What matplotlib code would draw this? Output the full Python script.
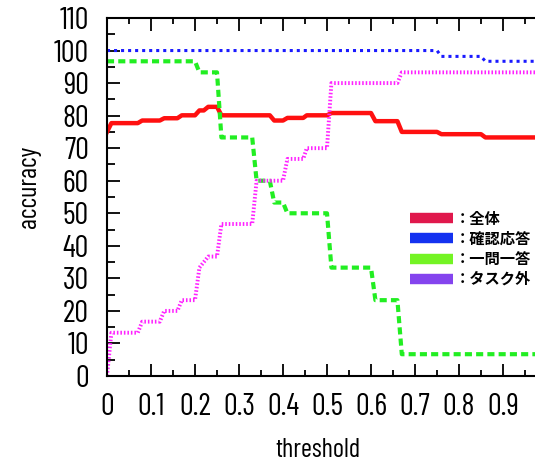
import matplotlib
matplotlib.use("Agg")
import matplotlib.pyplot as plt
from matplotlib.lines import Line2D
from matplotlib.ticker import MultipleLocator, FixedLocator
from matplotlib import font_manager

# thresholds / accuracy (%)
thr_all = [0, 0.01, 0.07, 0.08, 0.12, 0.13, 0.16, 0.17, 0.20, 0.21, 0.22, 0.23, 0.25, 0.26,
           0.37, 0.38, 0.40, 0.41, 0.446, 0.454, 0.50, 0.51, 0.60, 0.61, 0.66, 0.67,
           0.75, 0.76, 0.85, 0.86, 1.0]
acc_all = [75, 77.7, 77.7, 78.5, 78.5, 79.2, 79.2, 80.1, 80.1, 81.6, 81.6, 82.7, 82.7, 80.1,
           80.1, 78.5, 78.5, 79.3, 79.3, 80.1, 80.1, 80.8, 80.8, 78.3, 78.3, 75.0,
           75.0, 74.3, 74.3, 73.3, 73.3]

thr_conf = [0, 0.75, 0.76, 0.85, 0.86, 1.0]
acc_conf = [100, 100, 98.2, 98.2, 96.7, 96.7]

thr_qa = [0, 0.20, 0.21, 0.25, 0.26, 0.33, 0.34, 0.37, 0.38, 0.40, 0.41,
          0.50, 0.51, 0.60, 0.61, 0.66, 0.67, 1.0]
acc_qa = [96.7, 96.7, 93.3, 93.3, 73.3, 73.3, 60, 60, 53.3, 53.3, 50,
          50, 33.3, 33.3, 23.3, 23.3, 6.7, 6.7]

thr_out = [0, 0.01, 0.07, 0.08, 0.12, 0.13, 0.16, 0.17, 0.20, 0.21, 0.23, 0.25, 0.26,
           0.33, 0.34, 0.40, 0.41, 0.446, 0.454, 0.50, 0.51, 0.66, 0.67, 1.0]
acc_out = [0, 13.3, 13.3, 16.7, 16.7, 20, 20, 23.3, 23.3, 33.3, 36.7, 36.7, 46.7,
           46.7, 60, 60, 66.7, 66.7, 70, 70, 90, 90, 93.3, 93.3]

legend_labels = ["：全体", "：確認応答", "：一問一答", "：タスク外"]
legend_colors = ["#e0184c", "#1432f0", "#74f424", "#8444ee"]

x_ticks = [0, 0.1, 0.2, 0.3, 0.4, 0.5, 0.6, 0.7, 0.8, 0.9]
x_ticklabels = ["0", "0.1", "0.2", "0.3", "0.4", "0.5", "0.6", "0.7", "0.8", "0.9"]

# narrow face for the numbers, fall back to DejaVu (smaller) if missing
names = {f.name for f in font_manager.fontManager.ttflist}
if "Barlow Condensed" in names:
    num_font, num_size, lab_size = "Barlow Condensed", 22, 19
else:
    num_font, num_size, lab_size = "DejaVu Sans", 12, 14

fig = plt.figure(figsize=(5.35, 4.65), dpi=100)
ax = fig.add_axes([107 / 535, 89 / 465, 440 / 535, 358 / 465])

ax.plot(thr_all, acc_all, color="#ff1010", lw=3.2)
ax.plot(thr_conf, acc_conf, color="#1a1aff", lw=2.2, linestyle=(0, (1, 1.3)))
ax.plot(thr_qa, acc_qa, color="#22ee22", lw=3.0, linestyle=(0, (1.7, 1.0)))
ax.plot(thr_out, acc_out, color="#ff22ff", lw=2.8, linestyle=(0, (0.4, 0.5)))

ax.set_xlim(0, 1)
ax.set_ylim(0, 110)
ax.xaxis.set_major_locator(FixedLocator(x_ticks))
ax.set_xticklabels(x_ticklabels)
ax.xaxis.set_minor_locator(MultipleLocator(0.05))
ax.yaxis.set_major_locator(MultipleLocator(10))
ax.yaxis.set_minor_locator(MultipleLocator(5))

ax.tick_params(axis="both", which="both", direction="in", width=1.3, top=True, right=False)
ax.tick_params(axis="both", which="major", length=9, labelsize=num_size)
ax.tick_params(axis="x", which="minor", length=4.5)
ax.tick_params(axis="y", which="minor", length=6)
ax.tick_params(axis="y", which="major", pad=13)
ax.tick_params(axis="x", which="major", pad=12)
for lab in ax.get_xticklabels() + ax.get_yticklabels():
    lab.set_fontfamily(num_font)
for sp in ax.spines.values():
    sp.set_linewidth(1.5)

ax.set_xlabel("threshold", fontsize=lab_size, family=num_font)
ax.set_ylabel("accuracy", fontsize=lab_size, family=num_font)
ax.xaxis.set_label_coords((318 - 107) / 440, -0.172)
ax.yaxis.set_label_coords(-0.15, 0.528)

handles = [Line2D([], [], color=c, lw=7.5, solid_capstyle="butt") for c in legend_colors]
ax.legend(handles, legend_labels, loc="upper left", bbox_to_anchor=(0.689, 0.462),
          frameon=False, borderpad=0, borderaxespad=0, handlelength=2.8,
          handletextpad=0.15, labelspacing=0.27,
          prop={"family": ["Noto Sans CJK JP", "DejaVu Sans"], "size": 11, "weight": "bold"})

fig.savefig("out.png", dpi=100)
